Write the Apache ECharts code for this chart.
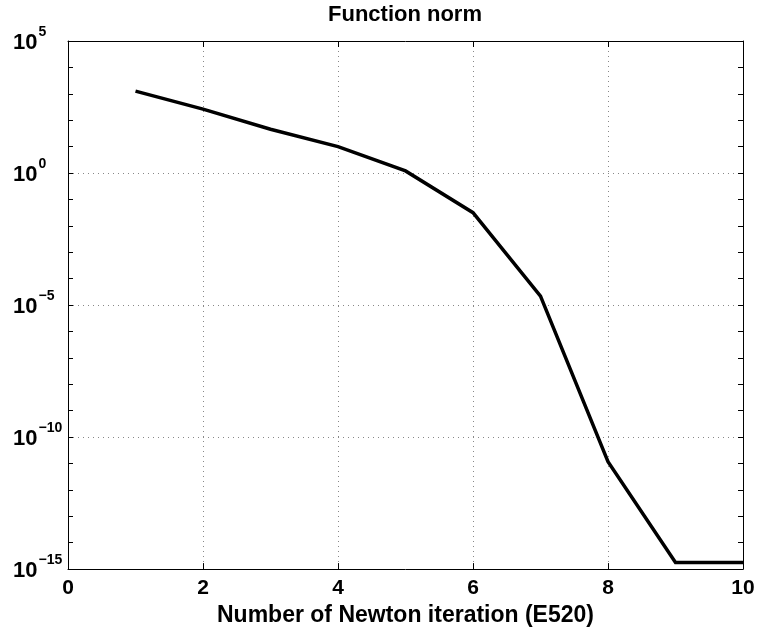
<!DOCTYPE html>
<html>
<head>
<meta charset="utf-8">
<script src="https://cdn.jsdelivr.net/npm/echarts@6/dist/echarts.min.js"></script>
<style>html,body{margin:0;padding:0;background:#fff}#c{width:758px;height:632px}</style>
</head>
<body>
<div id="c"></div>
<script>
var iterations = [1, 2, 3, 4, 5, 6, 7, 8, 9, 10];
var functionNorm = [1259, 263, 45.7, 10, 1.2, 0.0316, 2.19e-5, 1.17e-11, 1.78e-15, 1.78e-15];
var xTicks = [0, 2, 4, 6, 8, 10];
var yMajorExponents = [5, 0, -5, -10, -15];
var titleText = 'Function norm';
var xLabelText = 'Number of Newton iteration (E520)';

var FONT = '"Liberation Sans", Arial, Helvetica, sans-serif';
var chart = echarts.init(document.getElementById('c'), null, {renderer: 'canvas'});

function expLabel(v) {
  var e = Math.round(Math.log(v) / Math.LN10);
  if (yMajorExponents.indexOf(e) < 0) return '';
  var s = String(e).replace('-', '\u2212');
  return '{b|10}{s|' + s + '}';
}

var yBase = {type: 'log', logBase: 10, min: 1e-15, max: 1e5};
var data = iterations.map(function (x, i) { return [x, functionNorm[i]]; });

chart.setOption({
  animation: false,
  backgroundColor: '#fff',
  graphic: [{
    type: 'text', x: 405, y: 15, silent: true,
    style: {text: titleText, fontFamily: FONT, fontWeight: 'bold', fontSize: 22, fill: '#000',
      textAlign: 'center', textVerticalAlign: 'middle'}
  }],
  grid: {left: 68, right: 15, top: 41, bottom: 59, containLabel: false},
  xAxis: [{
    type: 'value', min: 0, max: 10, interval: 2, position: 'bottom',
    axisLine: {show: true, lineStyle: {color: '#000', width: 1}},
    axisTick: {show: true, inside: true, length: 6, lineStyle: {color: '#000'}},
    axisLabel: {fontFamily: FONT, fontWeight: 'bold', fontSize: 21, color: '#000', margin: 9,
      formatter: function (v) { return xTicks.indexOf(v) >= 0 ? String(v) : ''; }},
    splitLine: {show: true, lineStyle: {color: '#888', type: [1, 4], width: 1}},
    name: xLabelText, nameLocation: 'middle', nameGap: 32,
    nameTextStyle: {fontFamily: FONT, fontWeight: 'bold', fontSize: 23, color: '#000'}
  }, {
    type: 'value', min: 0, max: 10, interval: 2, position: 'top',
    axisLine: {show: true, lineStyle: {color: '#000', width: 1}},
    axisTick: {show: true, inside: true, length: 6, lineStyle: {color: '#000'}},
    axisLabel: {show: false}, splitLine: {show: false}
  }],
  yAxis: [
    Object.assign({}, yBase, {
      interval: 5, position: 'left',
      axisLine: {show: true, lineStyle: {color: '#000', width: 1}},
      axisTick: {show: false},
      axisLabel: {show: true, margin: 55, align: 'left', formatter: expLabel,
        rich: {
          b: {fontFamily: FONT, fontWeight: 'bold', fontSize: 22, color: '#000', padding: [3, 0, 0, 0]},
          s: {fontFamily: FONT, fontWeight: 'bold', fontSize: 14, color: '#000', padding: [0, 0, 18, 1]}
        }},
      splitLine: {show: true, lineStyle: {color: '#888', type: [1, 4], width: 1}}
    }),
    Object.assign({}, yBase, {
      interval: 1, position: 'left',
      axisLine: {show: false},
      axisTick: {show: true, inside: true, length: 5, lineStyle: {color: '#000'}},
      axisLabel: {show: false}, splitLine: {show: false}
    }),
    Object.assign({}, yBase, {
      interval: 1, position: 'right',
      axisLine: {show: true, lineStyle: {color: '#000', width: 1}},
      axisTick: {show: true, inside: true, length: 5, lineStyle: {color: '#000'}},
      axisLabel: {show: false}, splitLine: {show: false}
    })
  ],
  series: [{
    type: 'line', data: data, xAxisIndex: 0, yAxisIndex: 0,
    showSymbol: false, symbol: 'none',
    lineStyle: {color: '#000', width: 3.5, join: 'miter'},
    clip: true
  }]
});
</script>
</body>
</html>
